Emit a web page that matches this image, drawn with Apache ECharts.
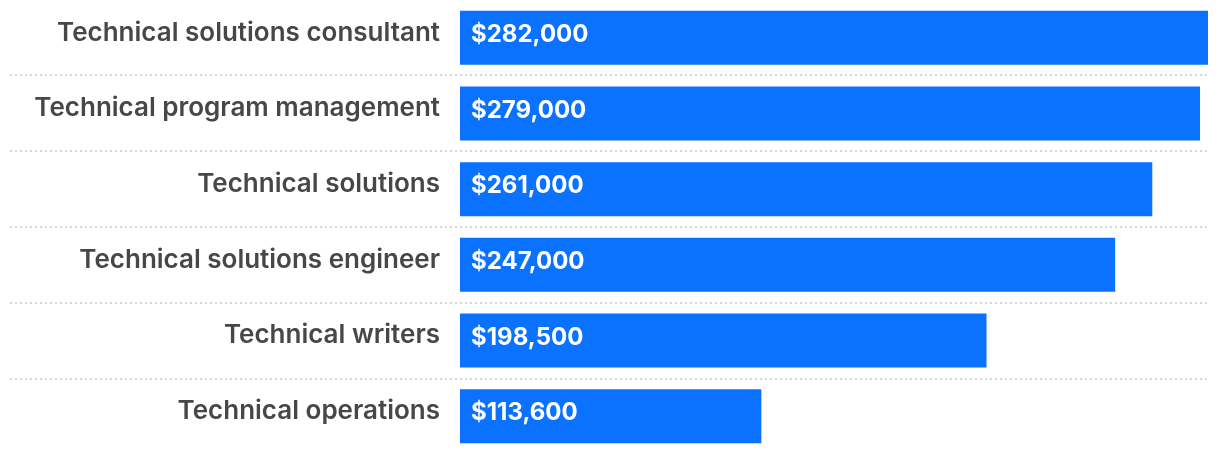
<!DOCTYPE html>
<html><head><meta charset="utf-8">
<script src="https://cdn.jsdelivr.net/npm/echarts@6/dist/echarts.min.js"></script>
<style>html,body{margin:0;padding:0;background:#fff}#c{width:1220px;height:454px}</style>
</head><body><div id="c"></div>
<script>
const categories = ["Technical solutions consultant","Technical program management","Technical solutions","Technical solutions engineer","Technical writers","Technical operations"];
const salaries = [282000, 279000, 261000, 247000, 198500, 113600];

const chart = echarts.init(document.getElementById('c'), null, {renderer:'canvas'});
const fmt = v => '$' + v.toLocaleString('en-US');
chart.setOption({
  animation:false,
  grid:[
    {left:460, right:12, top:-1, height:456, containLabel:false},
    {left:10, right:12, top:75, height:304, containLabel:false}
  ],
  xAxis:[
    {gridIndex:0, type:'value', min:0, max:282000, show:false},
    {gridIndex:1, type:'value', min:0, max:1, show:false}
  ],
  yAxis:[
    {gridIndex:0, type:'category', data:categories, inverse:true,
     axisLine:{show:false}, axisTick:{show:false}, splitLine:{show:false},
     axisLabel:{margin:20, fontFamily:'Inter', fontWeight:600, fontSize:26, color:'#474747',
       verticalAlign:'bottom', lineHeight:10}},
    {gridIndex:1, type:'category', data:categories.slice(1,5), inverse:true,
     axisLine:{show:false}, axisTick:{show:false}, axisLabel:{show:false},
     splitLine:{show:true, lineStyle:{color:'#d6d6d6', width:2, type:[2,3]}}}
  ],
  series:[{
    type:'bar', xAxisIndex:0, yAxisIndex:0, data:salaries, barWidth:54,
    itemStyle:{color:'#0A72FF'},
    label:{show:true, position:'insideLeft', distance:11, offset:[0,-3], formatter:p=>fmt(p.value),
      color:'#fff', fontFamily:'Inter', fontWeight:700, fontSize:24}
  }]
});
</script></body></html>
